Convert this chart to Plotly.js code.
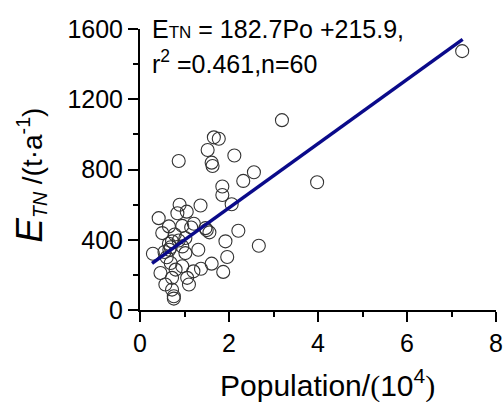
<!DOCTYPE html>
<html><head><meta charset="utf-8">
<script src="https://cdn.plot.ly/plotly-3.0.1.min.js"></script>
<style>html,body{margin:0;padding:0;background:#fff}#c{width:504px;height:402px}</style>
</head><body><div id="c"></div>
<script>
const popX = [3.19,1.66,1.77,1.52,0.87,2.12,1.61,1.63,2.56,2.32,1.85,1.85,2.06,2.21,1.92,2.67,1.96,1.87,1.61,1.37,7.24,3.98,1.56,
  0.89,1.36,0.84,0.42,0.65,0.95,1.21,1.47,0.50,0.72,1.02,0.29,0.66,1.02,1.31,0.69,0.95,0.46,0.72,1.06,1.10,0.57,0.72,0.76,0.76,
  0.87,0.65,0.69,0.95,1.50,0.78,1.15,0.60,1.05,0.80,1.20,0.55];
const etnY = [1081,983,975,911,848,880,839,820,784,735,703,655,602,451,391,366,302,217,264,235,1474,727,442,
  599,595,551,523,476,479,491,466,438,391,410,320,343,324,343,268,249,211,183,183,145,145,116,78,65,
  396,377,357,362,455,430,470,300,560,230,220,330];
const fitSlope = 182.7, fitIntercept = 215.9;
const fitX = [0.27, 7.25];
const fitY = fitX.map(v => fitSlope * v + fitIntercept);
const xTicks = [0,2,4,6,8];
const yTicks = [0,400,800,1200,1600];

const font = 'Liberation Sans, Arial, sans-serif';
const data = [
  {x: popX, y: etnY, type: 'scatter', mode: 'markers',
   marker: {symbol: 'circle-open', size: 13, color: '#333', line: {width: 1.1, color: '#333'}},
   hoverinfo: 'none', cliponaxis: false},
  {x: fitX, y: fitY, type: 'scatter', mode: 'lines',
   line: {color: '#0a0a8a', width: 3.5}, hoverinfo: 'none'}
];
const layout = {
  width: 504, height: 402,
  margin: {l: 139.5, r: 8.3, t: 28.5, b: 91.5},
  paper_bgcolor: '#fff', plot_bgcolor: '#fff',
  showlegend: false,
  font: {family: font, color: '#000', size: 25},
  xaxis: {range: [0, 8], tickvals: xTicks, ticktext: xTicks.map(String),
    showgrid: false, zeroline: false, showline: true, linecolor: '#000', linewidth: 2,
    ticks: 'outside', ticklen: 10, tickwidth: 2, tickcolor: '#000',
    minor: {ticks: 'outside', ticklen: 5, tickwidth: 2, tickcolor: '#000', dtick: 1, showgrid: false},
    tickfont: {family: font, size: 25}, fixedrange: true},
  yaxis: {range: [0, 1600], tickvals: yTicks, ticktext: yTicks.map(String),
    showgrid: false, zeroline: false, showline: true, linecolor: '#000', linewidth: 2,
    ticks: 'outside', ticklen: 10, tickwidth: 2, tickcolor: '#000',
    minor: {ticks: 'outside', ticklen: 5, tickwidth: 2, tickcolor: '#000', dtick: 200, showgrid: false},
    tickfont: {family: font, size: 25}, fixedrange: true},
  annotations: [
    {xref: 'paper', yref: 'paper', x: 0.027, y: 1.0, xanchor: 'left', yanchor: 'middle', showarrow: false,
     text: 'E<span style="font-size:17px">TN</span> = 182.7Po +215.9,', font: {family: font, size: 25}},
    {xref: 'paper', yref: 'paper', x: 0.027, y: 0.883, xanchor: 'left', yanchor: 'middle', showarrow: false,
     text: 'r<sup>2</sup> =0.461,n=60', font: {family: font, size: 25}},
    {xref: 'paper', yref: 'paper', x: 0.527, y: -0.262, xanchor: 'center', yanchor: 'middle', showarrow: false,
     text: 'Population/<span style="font-family:Liberation Serif">(</span>10<sup>4</sup><span style="font-family:Liberation Serif">)</span>', font: {family: font, size: 30}},
    {xref: 'paper', yref: 'paper', x: -0.31, y: 0.48, xanchor: 'center', yanchor: 'middle', showarrow: false, textangle: -90,
     text: '<i><span style="font-size:37px">E</span><sub>TN</sub></i> /(t·a<sup>-1</sup>)', font: {family: font, size: 28}}
  ]
};
Plotly.newPlot('c', data, layout, {staticPlot: true, displayModeBar: false});
</script></body></html>
